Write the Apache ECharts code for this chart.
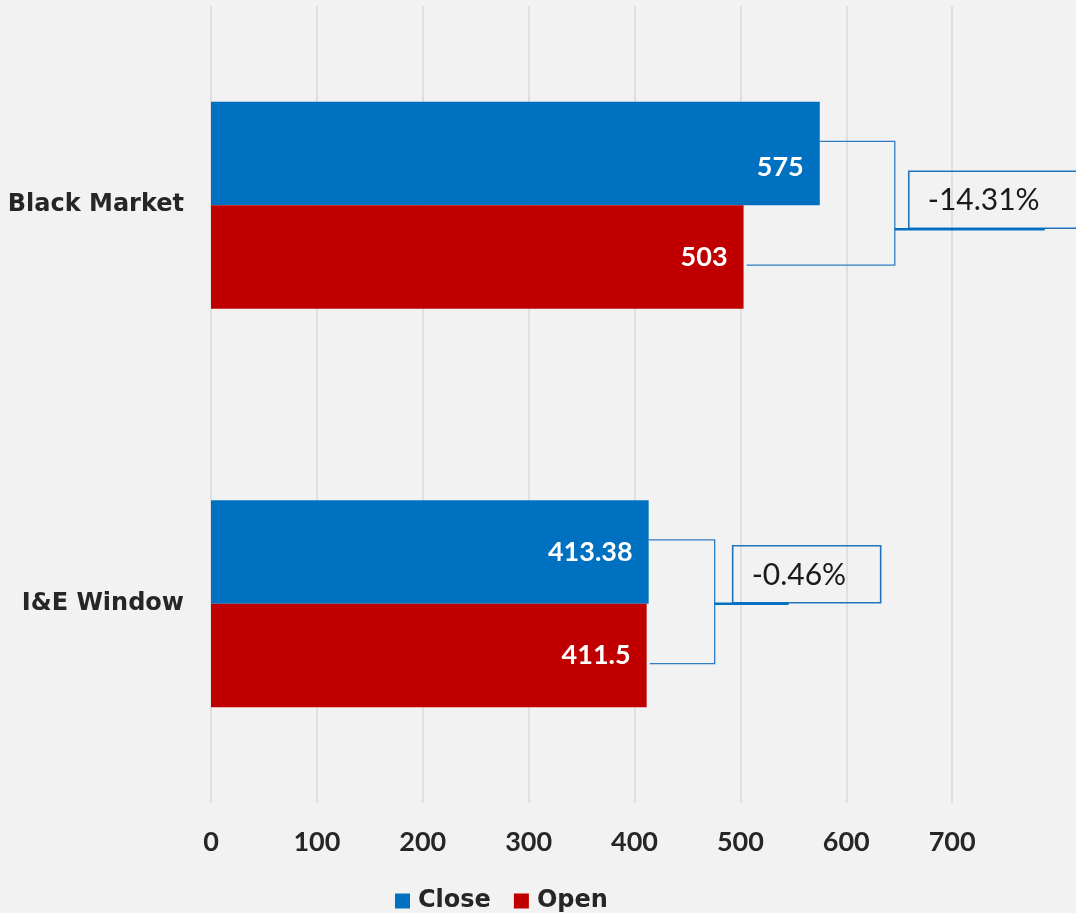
<!DOCTYPE html>
<html>
<head>
<meta charset="utf-8">
<script src="https://cdn.jsdelivr.net/npm/echarts@6/dist/echarts.min.js"></script>
<style>
html,body{margin:0;padding:0;background:#f2f2f2;}
#c{width:1076px;height:913px;}
</style>
</head>
<body>
<div id="c"></div>
<script>
// ---- data ----
const categories = ['Black Market', 'I&E Window'];
const closeValues = [575, 413.38];
const openValues = [503, 411.5];
const changeLabels = ['-14.31%', '-0.46%'];
const axisMin = 0, axisMax = 800, axisStep = 100;

// ---- annotation layout (pixel styling only) ----
const noteLayout = [
  { gap: 75, midDy: 24, boxGap: 14, lead: 136, boxW: 172 },
  { gap: 66, midDy: 0,  boxGap: 18, lead: 56,  boxW: 148 }
];
const CAT_GAP = 0.48;

const chart = echarts.init(document.getElementById('c'), null, { renderer: 'canvas' });

const closeData = closeValues.map((v, i) => i === 0 ? { value: v, label: { offset: [0, 14] } } : v);

const option = {
  backgroundColor: '#f2f2f2',
  animation: false,
  grid: { left: 211, right: 18, top: 6, bottom: 110, containLabel: false },
  legend: {
    data: ['Close', 'Open'],
    left: 390, top: 884,
    icon: 'rect', itemWidth: 15, itemHeight: 15, itemGap: 23,
    textStyle: { fontFamily: 'DejaVu Sans', fontWeight: 'bold', fontSize: 24, color: '#262626', padding: [0, 0, 0, 3] }
  },
  xAxis: {
    type: 'value', min: axisMin, max: axisMax, interval: axisStep,
    axisLine: { show: false }, axisTick: { show: false },
    splitLine: { show: true, showMaxLine: false, lineStyle: { color: '#d9d9d9', width: 1.5 } },
    axisLabel: { showMaxLabel: false, fontFamily: 'Lato', fontWeight: 'bold', fontSize: 27, color: '#262626', margin: 26 }
  },
  yAxis: {
    type: 'category', data: categories, inverse: true,
    axisLine: { show: false }, axisTick: { show: false }, splitLine: { show: false },
    axisLabel: { margin: 27, fontFamily: 'DejaVu Sans', fontWeight: 'bold', fontSize: 24, color: '#262626' }
  },
  series: [
    {
      name: 'Close', type: 'bar', data: closeData,
      barGap: '0%', barCategoryGap: (CAT_GAP * 100) + '%',
      itemStyle: { color: '#0070c0' },
      label: { show: true, position: 'insideRight', distance: 16, color: '#ffffff', fontFamily: 'Lato', fontWeight: 'bold', fontSize: 27 }
    },
    {
      name: 'Open', type: 'bar', data: openValues,
      barGap: '0%', barCategoryGap: (CAT_GAP * 100) + '%',
      itemStyle: { color: '#c00000' },
      label: { show: true, position: 'insideRight', distance: 16, color: '#ffffff', fontFamily: 'Lato', fontWeight: 'bold', fontSize: 27 }
    },
    {
      name: 'notes', type: 'custom', silent: true, z: 10, clip: false,
      encode: { x: [1, 2], y: 0 },
      data: categories.map((c, i) => [i, closeValues[i], openValues[i]]),
      renderItem: function (params, api) {
        const i = api.value(0);
        const cv = api.value(1), ov = api.value(2);
        const L = noteLayout[i];
        const yc = api.coord([0, i])[1];
        const band = api.size([0, 1])[1];
        const h = band * (1 - CAT_GAP) / 2;
        const xc = api.coord([cv, i])[0];
        const xo = api.coord([ov, i])[0];
        const yTop = yc - h / 2 - 12;
        const yBot = yc + h / 2 + 8;
        const bx = Math.max(xc, xo) + L.gap;
        const ym = yc + L.midDy;
        const boxL = bx + L.boxGap;
        const boxTop = ym - 58, boxH = 57;
        return {
          type: 'group',
          children: [
            { type: 'polyline', shape: { points: [[xc, yTop], [bx, yTop], [bx, yBot], [xo + 3, yBot]] },
              style: { stroke: '#2e7cc1', lineWidth: 1.3, fill: null } },
            { type: 'rect', shape: { x: boxL, y: boxTop, width: L.boxW, height: boxH },
              style: { stroke: '#1f73bf', lineWidth: 1.6, fill: null } },
            { type: 'line', shape: { x1: bx, y1: ym, x2: boxL + L.lead, y2: ym },
              style: { stroke: '#0070c0', lineWidth: 2.5 } },
            { type: 'text', x: boxL + 19, y: boxTop + boxH / 2 + 1,
              style: { text: changeLabels[i], font: '400 30px Lato', fill: '#1a1a1a', verticalAlign: 'middle', align: 'left' } }
          ]
        };
      }
    }
  ]
};
chart.setOption(option);
</script>
</body>
</html>
